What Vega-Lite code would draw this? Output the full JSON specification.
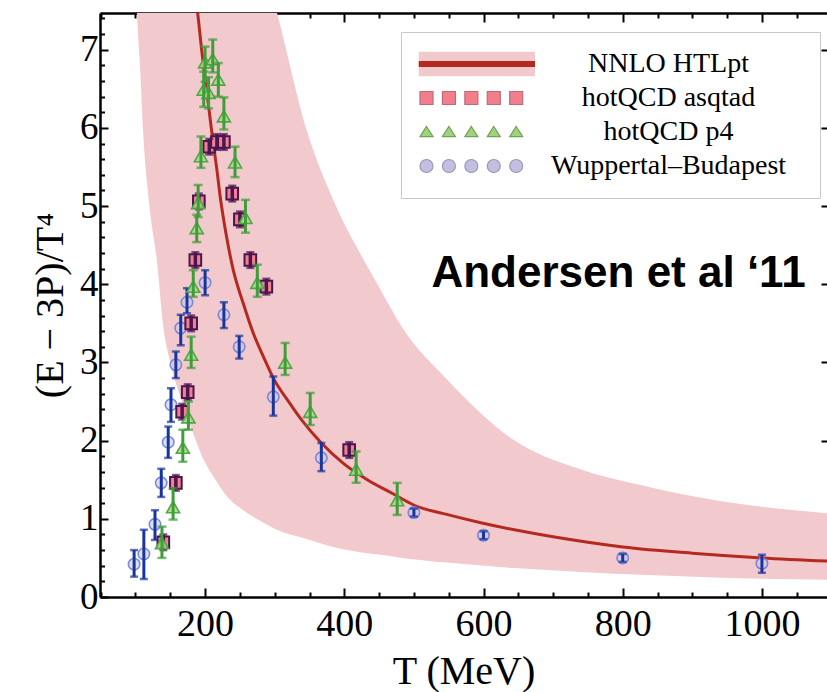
{
  "$schema": "https://vega.github.io/schema/vega-lite/v6.json",
  "width": 727,
  "height": 584,
  "autosize": {"type": "none"},
  "padding": {"left": 100, "top": 13, "right": 0, "bottom": 95},
  "background": "white",
  "config": {
    "view": {"stroke": null},
    "axis": {"grid": false, "domainColor": "black", "tickColor": "black", "labelColor": "black", "titleColor": "black", "labelFont": "Liberation Serif", "titleFont": "Liberation Serif", "titleFontWeight": "normal"}
  },
  "datasets": {
    "band": [
      {"T": 100, "lo": 7.9, "hi": 34}, {"T": 102, "lo": 7.48, "hi": 33}, {"T": 106.5, "lo": 6.79, "hi": 31},
      {"T": 111, "lo": 5.94, "hi": 30}, {"T": 116.5, "lo": 5.3, "hi": 28}, {"T": 121, "lo": 4.92, "hi": 27},
      {"T": 131, "lo": 4.28, "hi": 24}, {"T": 140, "lo": 3.45, "hi": 22}, {"T": 150, "lo": 3.0, "hi": 20},
      {"T": 167, "lo": 2.5, "hi": 17.5}, {"T": 181, "lo": 2.14, "hi": 15.6}, {"T": 200, "lo": 1.72, "hi": 13.4},
      {"T": 212, "lo": 1.54, "hi": 12.3}, {"T": 232, "lo": 1.28, "hi": 10.8}, {"T": 255, "lo": 1.11, "hi": 9.4},
      {"T": 270, "lo": 1.02, "hi": 8.7}, {"T": 290, "lo": 0.92, "hi": 7.9}, {"T": 303, "lo": 0.86, "hi": 7.48},
      {"T": 347, "lo": 0.74, "hi": 5.94}, {"T": 384, "lo": 0.64, "hi": 5.08}, {"T": 433, "lo": 0.56, "hi": 4.23},
      {"T": 452, "lo": 0.54, "hi": 3.93}, {"T": 483, "lo": 0.5, "hi": 3.45}, {"T": 548, "lo": 0.44, "hi": 2.78},
      {"T": 643, "lo": 0.37, "hi": 2.01}, {"T": 740, "lo": 0.32, "hi": 1.63}, {"T": 836, "lo": 0.28, "hi": 1.41},
      {"T": 931, "lo": 0.25, "hi": 1.24}, {"T": 1095, "lo": 0.22, "hi": 1.07}
    ],
    "curve": [
      {"T": 189, "c": 7.5}, {"T": 195, "c": 7.0}, {"T": 200, "c": 6.62}, {"T": 205, "c": 6.28}, {"T": 210, "c": 5.92},
      {"T": 217, "c": 5.46}, {"T": 222, "c": 5.1}, {"T": 230, "c": 4.65}, {"T": 240, "c": 4.2}, {"T": 255, "c": 3.75},
      {"T": 269, "c": 3.38}, {"T": 285, "c": 3.05}, {"T": 298, "c": 2.8}, {"T": 320, "c": 2.5}, {"T": 340, "c": 2.25},
      {"T": 365, "c": 1.99}, {"T": 400, "c": 1.7}, {"T": 433, "c": 1.5}, {"T": 470, "c": 1.32}, {"T": 499, "c": 1.18},
      {"T": 550, "c": 1.05}, {"T": 596, "c": 0.95}, {"T": 650, "c": 0.85}, {"T": 700, "c": 0.77}, {"T": 800, "c": 0.64},
      {"T": 900, "c": 0.56}, {"T": 1000, "c": 0.5}, {"T": 1095, "c": 0.46}
    ],
    "wb": [
      {"T": 98, "v": 0.42, "lo": 0.26, "hi": 0.6}, {"T": 112, "v": 0.55, "lo": 0.23, "hi": 0.86},
      {"T": 128, "v": 0.93, "lo": 0.73, "hi": 1.11}, {"T": 137, "v": 1.46, "lo": 1.28, "hi": 1.64},
      {"T": 147, "v": 1.98, "lo": 1.78, "hi": 2.18}, {"T": 151, "v": 2.46, "lo": 2.24, "hi": 2.67},
      {"T": 158, "v": 2.97, "lo": 2.8, "hi": 3.14}, {"T": 165, "v": 3.44, "lo": 3.22, "hi": 3.61},
      {"T": 174, "v": 3.77, "lo": 3.63, "hi": 3.95}, {"T": 200, "v": 4.02, "lo": 3.86, "hi": 4.18},
      {"T": 227, "v": 3.61, "lo": 3.44, "hi": 3.77}, {"T": 249, "v": 3.2, "lo": 3.05, "hi": 3.34},
      {"T": 298, "v": 2.56, "lo": 2.32, "hi": 2.82}, {"T": 367, "v": 1.78, "lo": 1.61, "hi": 1.97},
      {"T": 500, "v": 1.08, "lo": 1.03, "hi": 1.13}, {"T": 600, "v": 0.79, "lo": 0.74, "hi": 0.84},
      {"T": 800, "v": 0.5, "lo": 0.45, "hi": 0.55}, {"T": 1000, "v": 0.43, "lo": 0.31, "hi": 0.54}
    ],
    "asq": [
      {"T": 140, "v": 0.7, "lo": 0.6, "hi": 0.8}, {"T": 158, "v": 1.46, "lo": 1.36, "hi": 1.56},
      {"T": 167, "v": 2.37, "lo": 2.27, "hi": 2.47}, {"T": 175, "v": 2.62, "lo": 2.52, "hi": 2.72},
      {"T": 180, "v": 3.5, "lo": 3.4, "hi": 3.6}, {"T": 186, "v": 4.31, "lo": 4.21, "hi": 4.41},
      {"T": 191, "v": 5.06, "lo": 4.96, "hi": 5.16}, {"T": 206, "v": 5.76, "lo": 5.66, "hi": 5.86},
      {"T": 217, "v": 5.82, "lo": 5.72, "hi": 5.92}, {"T": 227, "v": 5.82, "lo": 5.72, "hi": 5.92},
      {"T": 239, "v": 5.16, "lo": 5.06, "hi": 5.26}, {"T": 250, "v": 4.83, "lo": 4.73, "hi": 4.93},
      {"T": 265, "v": 4.31, "lo": 4.21, "hi": 4.41}, {"T": 288, "v": 3.97, "lo": 3.87, "hi": 4.07},
      {"T": 407, "v": 1.88, "lo": 1.78, "hi": 1.98}
    ],
    "p4": [
      {"T": 138, "v": 0.69, "lo": 0.5, "hi": 0.9}, {"T": 154, "v": 1.15, "lo": 0.99, "hi": 1.39},
      {"T": 168, "v": 1.91, "lo": 1.73, "hi": 2.14}, {"T": 176, "v": 2.3, "lo": 2.14, "hi": 2.5},
      {"T": 180, "v": 3.1, "lo": 2.93, "hi": 3.33}, {"T": 183, "v": 3.97, "lo": 3.84, "hi": 4.18},
      {"T": 188, "v": 4.72, "lo": 4.54, "hi": 4.89}, {"T": 190, "v": 5.04, "lo": 4.86, "hi": 5.27},
      {"T": 194, "v": 5.64, "lo": 5.49, "hi": 5.89}, {"T": 198, "v": 6.49, "lo": 6.27, "hi": 6.72},
      {"T": 200, "v": 6.84, "lo": 6.59, "hi": 7.04}, {"T": 205, "v": 6.45, "lo": 6.25, "hi": 6.65},
      {"T": 211, "v": 6.88, "lo": 6.71, "hi": 7.13}, {"T": 219, "v": 6.62, "lo": 6.4, "hi": 6.83},
      {"T": 227, "v": 6.15, "lo": 5.98, "hi": 6.39}, {"T": 243, "v": 5.56, "lo": 5.37, "hi": 5.76},
      {"T": 258, "v": 4.85, "lo": 4.66, "hi": 5.08}, {"T": 275, "v": 4.02, "lo": 3.84, "hi": 4.25},
      {"T": 315, "v": 3.0, "lo": 2.84, "hi": 3.25}, {"T": 351, "v": 2.37, "lo": 2.2, "hi": 2.61},
      {"T": 417, "v": 1.63, "lo": 1.46, "hi": 1.86}, {"T": 476, "v": 1.24, "lo": 1.05, "hi": 1.46}
    ],
    "leg": [
      {"series": "NNLO HTLpt"}, {"series": "hotQCD asqtad"}, {"series": "hotQCD p4"}, {"series": "Wuppertal–Budapest"}
    ],
    "legband": [
      {"band": "NNLO HTLpt"}
    ]
  },
  "layer": [
    {
      "data": {"name": "band"},
      "mark": {"type": "area", "color": "#f2c9cd", "clip": true, "opacity": 1, "interpolate": "monotone"},
      "encoding": {
        "x": {"field": "T", "type": "quantitative", "scale": {"domain": [49, 1093.5], "nice": false, "zero": false},
          "axis": {"orient": "bottom", "values": [50,100,150,200,250,300,350,400,450,500,550,600,650,700,750,800,850,900,950,1000,1050],
            "labelExpr": "datum.value % 200 === 0 ? format(datum.value, 'd') : ''", "labelFontSize": 38, "labelPadding": 17,
            "labelFlush": false, "labelOverlap": false,
            "tickSize": {"condition": {"test": "datum.value % 200 === 0", "value": -9}, "value": -5},
            "tickWidth": 2, "domainWidth": 2.5, "title": "T (MeV)", "titleFontSize": 40, "titlePadding": 4}},
        "y": {"field": "hi", "type": "quantitative", "scale": {"domain": [0, 7.47], "nice": false, "zero": false},
          "axis": {"orient": "left", "values": [0,0.2,0.4,0.6,0.8,1,1.2,1.4,1.6,1.8,2,2.2,2.4,2.6,2.8,3,3.2,3.4,3.6,3.8,4,4.2,4.4,4.6,4.8,5,5.2,5.4,5.6,5.8,6,6.2,6.4,6.6,6.8,7,7.2,7.4],
            "labelExpr": "abs(datum.value - round(datum.value)) < 0.001 ? format(datum.value, 'd') : ''", "labelFontSize": 37, "labelPadding": 10,
            "labelFlush": false, "labelOverlap": false,
            "tickSize": {"condition": {"test": "abs(datum.value - round(datum.value)) < 0.001", "value": -8}, "value": -4.5},
            "tickWidth": 2, "domainWidth": 2.5, "title": "(E − 3P)/T⁴", "titleFontSize": 40, "titlePadding": 9}},
        "y2": {"field": "lo"}
      }
    },
    {
      "data": {"name": "curve"},
      "mark": {"type": "line", "color": "#b52a20", "strokeWidth": 3, "clip": true, "interpolate": "monotone"},
      "encoding": {
        "x": {"field": "T", "type": "quantitative", "scale": {"domain": [49, 1093.5], "nice": false, "zero": false},
          "axis": {"orient": "top", "values": [50,100,150,200,250,300,350,400,450,500,550,600,650,700,750,800,850,900,950,1000,1050],
            "labels": false, "title": null,
            "tickSize": {"condition": {"test": "datum.value % 200 === 0", "value": -9}, "value": -5},
            "tickWidth": 2, "domainWidth": 2.5}},
        "y": {"field": "c", "type": "quantitative", "scale": {"domain": [0, 7.47], "nice": false, "zero": false},
          "axis": {"orient": "right", "values": [1,2,3,4,5,6,7], "labels": false, "title": null, "domain": false, "tickSize": -6, "tickWidth": 2}}
      }
    },
    {
      "data": {"name": "wb"},
      "mark": {"type": "circle", "size": 130, "fill": "#c9c7ee", "fillOpacity": 0.55, "stroke": "#6b7fd6", "strokeWidth": 1.6, "strokeOpacity": 0.9},
      "encoding": {
        "x": {"field": "T", "type": "quantitative", "scale": {"domain": [49, 1093.5], "nice": false, "zero": false}, "axis": null},
        "y": {"field": "v", "type": "quantitative", "scale": {"domain": [0, 7.47], "nice": false, "zero": false}, "axis": null}
      }
    },
    {
      "data": {"name": "wb"},
      "mark": {"type": "rule", "color": "#17359c", "strokeWidth": 3},
      "encoding": {
        "x": {"field": "T", "type": "quantitative", "axis": null},
        "y": {"field": "lo", "type": "quantitative", "axis": null},
        "y2": {"field": "hi"}
      }
    },
    {
      "data": {"name": "wb"},
      "mark": {"type": "tick", "orient": "horizontal", "color": "#17359c", "size": 8, "thickness": 2.5},
      "encoding": {
        "x": {"field": "T", "type": "quantitative", "axis": null},
        "y": {"field": "lo", "type": "quantitative", "axis": null}
      }
    },
    {
      "data": {"name": "wb"},
      "mark": {"type": "tick", "orient": "horizontal", "color": "#17359c", "size": 8, "thickness": 2.5},
      "encoding": {
        "x": {"field": "T", "type": "quantitative", "axis": null},
        "y": {"field": "hi", "type": "quantitative", "axis": null}
      }
    },
    {
      "data": {"name": "asq"},
      "mark": {"type": "square", "size": 135, "fill": "#f4808f", "fillOpacity": 1, "stroke": "#4a1550", "strokeWidth": 2},
      "encoding": {
        "x": {"field": "T", "type": "quantitative", "axis": null},
        "y": {"field": "v", "type": "quantitative", "axis": null}
      }
    },
    {
      "data": {"name": "asq"},
      "mark": {"type": "rule", "color": "#4a1550", "strokeWidth": 3.5},
      "encoding": {
        "x": {"field": "T", "type": "quantitative", "axis": null},
        "y": {"field": "lo", "type": "quantitative", "axis": null},
        "y2": {"field": "hi"}
      }
    },
    {
      "data": {"name": "asq"},
      "mark": {"type": "tick", "orient": "horizontal", "color": "#4a1550", "size": 8, "thickness": 2.5},
      "encoding": {
        "x": {"field": "T", "type": "quantitative", "axis": null},
        "y": {"field": "lo", "type": "quantitative", "axis": null}
      }
    },
    {
      "data": {"name": "asq"},
      "mark": {"type": "tick", "orient": "horizontal", "color": "#4a1550", "size": 8, "thickness": 2.5},
      "encoding": {
        "x": {"field": "T", "type": "quantitative", "axis": null},
        "y": {"field": "hi", "type": "quantitative", "axis": null}
      }
    },
    {
      "data": {"name": "p4"},
      "mark": {"type": "point", "shape": "triangle-up", "size": 170, "filled": true, "fill": "#a6d884", "fillOpacity": 0.85, "stroke": "#4da845", "strokeWidth": 1.6, "opacity": 1},
      "encoding": {
        "x": {"field": "T", "type": "quantitative", "axis": null},
        "y": {"field": "v", "type": "quantitative", "axis": null}
      }
    },
    {
      "data": {"name": "p4"},
      "mark": {"type": "rule", "color": "#3f9d3a", "strokeWidth": 3},
      "encoding": {
        "x": {"field": "T", "type": "quantitative", "axis": null},
        "y": {"field": "lo", "type": "quantitative", "axis": null},
        "y2": {"field": "hi"}
      }
    },
    {
      "data": {"name": "p4"},
      "mark": {"type": "tick", "orient": "horizontal", "color": "#3f9d3a", "size": 9, "thickness": 2.5},
      "encoding": {
        "x": {"field": "T", "type": "quantitative", "axis": null},
        "y": {"field": "lo", "type": "quantitative", "axis": null}
      }
    },
    {
      "data": {"name": "p4"},
      "mark": {"type": "tick", "orient": "horizontal", "color": "#3f9d3a", "size": 9, "thickness": 2.5},
      "encoding": {
        "x": {"field": "T", "type": "quantitative", "axis": null},
        "y": {"field": "hi", "type": "quantitative", "axis": null}
      }
    },
    {
      "data": {"values": [{}]},
      "mark": {"type": "text", "text": "Andersen et al ‘11", "font": "Liberation Sans", "fontWeight": "bold", "fontSize": 44, "align": "center", "baseline": "alphabetic", "color": "black"},
      "encoding": {
        "x": {"datum": 794, "type": "quantitative", "axis": null},
        "y": {"datum": 3.97, "type": "quantitative", "axis": null}
      }
    },
    {
      "data": {"name": "legband"},
      "mark": {"type": "point", "filled": true, "fill": "#f2c9cd", "stroke": "transparent", "opacity": 0},
      "encoding": {
        "shape": {"field": "band", "type": "nominal",
          "scale": {"domain": ["NNLO HTLpt"],
            "range": ["M -2.2 -1.9 L 15.7 -1.9 L 15.7 -0.46 L -2.2 -0.46 Z M -2.2 0.46 L 15.7 0.46 L 15.7 1.9 L -2.2 1.9 Z"]},
          "legend": {
            "title": null, "orient": "none", "legendX": 301, "legendY": 19, "padding": 18,
            "strokeColor": "transparent", "fillColor": "transparent",
            "labelFont": "Liberation Serif", "labelFontSize": 28, "labelColor": "transparent", "labelAlign": "center", "labelOffset": 221.5, "labelLimit": 500,
            "symbolSize": 169, "rowPadding": 6,
            "encode": {"symbols": {"update": {"opacity": {"value": 1}, "strokeWidth": {"value": 0}}}}
          }
        }
      }
    },
    {
      "data": {"name": "leg"},
      "mark": {"type": "point", "filled": true, "opacity": 0},
      "encoding": {
        "shape": {"field": "series", "type": "nominal",
          "scale": {"domain": ["NNLO HTLpt", "hotQCD asqtad", "hotQCD p4", "Wuppertal–Budapest"],
            "range": [
              "M -2.2 -0.46 L 15.7 -0.46 L 15.7 0.46 L -2.2 0.46 Z M 56.4 0 L 56.4 0.01",
              "M -2 -1 L 0 -1 L 0 1 L -2 1 Z M 1.45 -1 L 3.45 -1 L 3.45 1 L 1.45 1 Z M 4.9 -1 L 6.9 -1 L 6.9 1 L 4.9 1 Z M 8.35 -1 L 10.35 -1 L 10.35 1 L 8.35 1 Z M 11.8 -1 L 13.8 -1 L 13.8 1 L 11.8 1 Z",
              "M -1 -0.85 L 0 0.7 L -2 0.7 Z M 2.45 -0.85 L 3.45 0.7 L 1.45 0.7 Z M 5.9 -0.85 L 6.9 0.7 L 4.9 0.7 Z M 9.35 -0.85 L 10.35 0.7 L 8.35 0.7 Z M 12.8 -0.85 L 13.8 0.7 L 11.8 0.7 Z",
              "M -2 0 A 1 1 0 1 0 0 0 A 1 1 0 1 0 -2 0 Z M 1.45 0 A 1 1 0 1 0 3.45 0 A 1 1 0 1 0 1.45 0 Z M 4.9 0 A 1 1 0 1 0 6.9 0 A 1 1 0 1 0 4.9 0 Z M 8.35 0 A 1 1 0 1 0 10.35 0 A 1 1 0 1 0 8.35 0 Z M 11.8 0 A 1 1 0 1 0 13.8 0 A 1 1 0 1 0 11.8 0 Z"
            ]},
          "legend": {
            "title": null, "orient": "none", "legendX": 301, "legendY": 19, "padding": 18,
            "strokeColor": "#c8c8c8", "fillColor": "transparent",
            "labelFont": "Liberation Serif", "labelFontSize": 28, "labelColor": "black", "labelAlign": "center", "labelOffset": 221.5, "labelLimit": 500,
            "symbolSize": 169, "rowPadding": 6, "symbolFillColor": "#f07f8b",
            "encode": {"symbols": {"update": {"opacity": {"value": 1}, "fillOpacity": {"value": 1}, "strokeWidth": {"value": 1.2}}}}
          }
        },
        "fill": {"field": "series", "type": "nominal",
          "scale": {"domain": ["NNLO HTLpt", "hotQCD asqtad", "hotQCD p4", "Wuppertal–Budapest"],
            "range": ["#b52a20", "#f07f8b", "#a2d27f", "#c3bfe0"]},
          "legend": {
            "title": null, "orient": "none", "legendX": 301, "legendY": 19, "padding": 18,
            "strokeColor": "#c8c8c8", "fillColor": "transparent",
            "labelFont": "Liberation Serif", "labelFontSize": 28, "labelColor": "black", "labelAlign": "center", "labelOffset": 221.5, "labelLimit": 500,
            "symbolSize": 169, "rowPadding": 6, "symbolFillColor": "#f07f8b"
          }
        },
        "stroke": {"field": "series", "type": "nominal",
          "scale": {"domain": ["NNLO HTLpt", "hotQCD asqtad", "hotQCD p4", "Wuppertal–Budapest"],
            "range": ["transparent", "#c06a78", "#6fa358", "#9a97b8"]},
          "legend": {
            "title": null, "orient": "none", "legendX": 301, "legendY": 19, "padding": 18,
            "strokeColor": "#c8c8c8", "fillColor": "transparent",
            "labelFont": "Liberation Serif", "labelFontSize": 28, "labelColor": "black", "labelAlign": "center", "labelOffset": 221.5, "labelLimit": 500,
            "symbolSize": 169, "rowPadding": 6, "symbolFillColor": "#f07f8b"
          }
        }
      }
    }
  ],
  "resolve": {
    "axis": {"x": "independent", "y": "independent"},
    "scale": {"shape": "independent", "fill": "independent", "stroke": "independent"},
    "legend": {"shape": "independent", "fill": "independent", "stroke": "independent"}
  }
}
